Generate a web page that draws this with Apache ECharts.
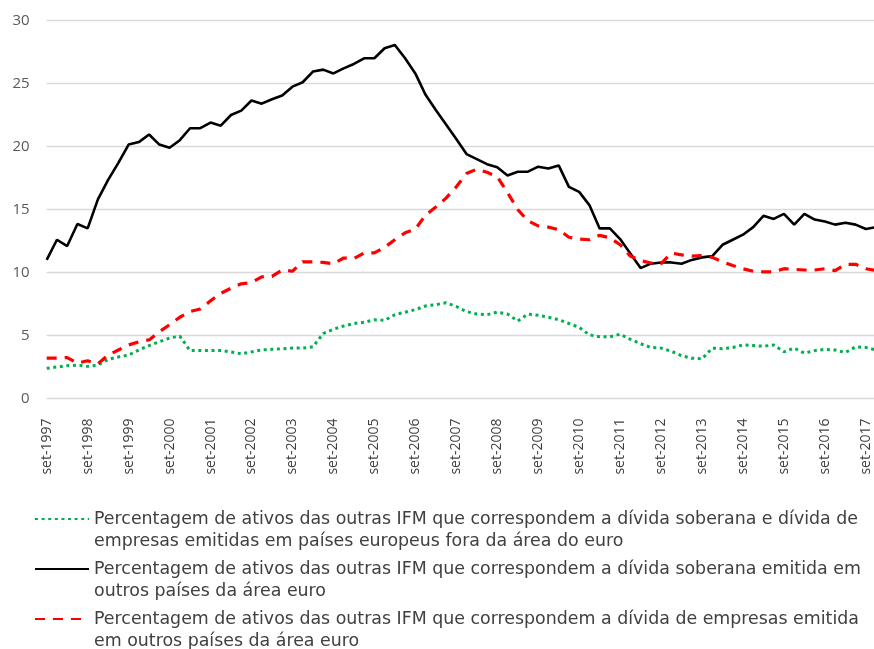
<!DOCTYPE html>
<html>
<head>
<meta charset="utf-8">
<script src="https://cdn.jsdelivr.net/npm/echarts@6/dist/echarts.min.js"></script>
<style>
html,body{margin:0;padding:0;background:#fff;}
#chart{width:874px;height:649px;}
</style>
</head>
<body>
<div id="chart"></div>
<script>
// Quarterly categories: set-1997 ... dez-2017
const quarterMonths = ['set', 'dez', 'mar', 'jun'];
const categories = [];
for (let i = 0; i < 82; i++) {
  const m = quarterMonths[i % 4];
  const year = (m === 'set' || m === 'dez') ? 1997 + Math.floor(i / 4) : 1998 + Math.floor(i / 4);
  categories.push(m + '-' + year);
}

const seriesNames = [
  'Percentagem de ativos das outras IFM que correspondem a dívida soberana e dívida de\nempresas emitidas em países europeus fora da área do euro',
  'Percentagem de ativos das outras IFM que correspondem a dívida soberana emitida em\noutros países da área euro',
  'Percentagem de ativos das outras IFM que correspondem a dívida de empresas emitida\nem outros países da área euro'
];

const nonEuroDebt = [
  2.4, 2.5, 2.6, 2.65, 2.55, 2.65, 3.1, 3.3, 3.45, 3.85,
  4.2, 4.5, 4.8, 4.95, 3.8, 3.8, 3.8, 3.8, 3.7, 3.55,
  3.7, 3.85, 3.9, 3.95, 4.0, 4.0, 4.1, 5.15, 5.5, 5.75,
  5.95, 6.05, 6.25, 6.2, 6.65, 6.85, 7.05, 7.35, 7.45, 7.6,
  7.3, 6.9, 6.7, 6.65, 6.85, 6.7, 6.15, 6.7, 6.6, 6.45,
  6.25, 5.95, 5.65, 5.05, 4.9, 4.9, 5.1, 4.7, 4.35, 4.05,
  4.0, 3.75, 3.4, 3.2, 3.15, 4.0, 3.95, 4.05, 4.25, 4.2,
  4.15, 4.25, 3.7, 4.0, 3.6, 3.8, 3.9, 3.85, 3.65, 4.1,
  4.05, 3.85
];

const sovereignEuro = [
  11.0, 12.6, 12.1, 13.85, 13.5, 15.8, 17.35, 18.7, 20.15, 20.35,
  20.95, 20.15, 19.9, 20.5, 21.45, 21.45, 21.9, 21.65, 22.5, 22.85,
  23.65, 23.4, 23.75, 24.05, 24.75, 25.1, 25.95, 26.1, 25.8, 26.2,
  26.55, 27.0, 27.0, 27.8, 28.05, 27.0, 25.8, 24.1, 22.9, 21.75,
  20.6, 19.4, 19.0, 18.6, 18.35, 17.7, 18.0, 18.0, 18.4, 18.25,
  18.5, 16.8, 16.4, 15.35, 13.5, 13.5, 12.65, 11.5, 10.35, 10.7,
  10.8, 10.8, 10.7, 11.0, 11.2, 11.3, 12.2, 12.6, 13.0, 13.6,
  14.5, 14.25, 14.65, 13.8, 14.65, 14.2, 14.05, 13.8, 13.95, 13.8,
  13.45, 13.6
];

const corporateEuro = [
  3.2, 3.2, 3.25, 2.8, 3.0, 2.75, 3.45, 3.85, 4.25, 4.5,
  4.65, 5.3, 5.85, 6.45, 6.9, 7.1, 7.75, 8.35, 8.75, 9.1,
  9.2, 9.65, 9.7, 10.2, 10.1, 10.85, 10.85, 10.8, 10.7, 11.15,
  11.1, 11.55, 11.55, 12.0, 12.6, 13.15, 13.45, 14.55, 15.2, 15.9,
  16.8, 17.85, 18.2, 17.95, 17.6, 16.35, 15.0, 14.1, 13.7, 13.6,
  13.4, 12.8, 12.65, 12.6, 12.95, 12.75, 12.2, 11.3, 10.95, 10.75,
  10.7, 11.55, 11.4, 11.3, 11.35, 11.2, 10.85, 10.55, 10.3, 10.1,
  10.05, 10.05, 10.3, 10.25, 10.2, 10.2, 10.3, 10.15, 10.65, 10.65,
  10.3, 10.15
];

const yTicks = { min: 0, max: 30, interval: 5 };

const chart = echarts.init(document.getElementById('chart'), null, { renderer: 'canvas' });
const FONT = 'Open Sans';
const LEGEND_FONT = 'DejaVu Sans';

chart.setOption({
  backgroundColor: '#ffffff',
  animation: false,
  textStyle: { fontFamily: FONT },
  grid: {
    left: 46.7,
    top: 20.5,
    width: 829.4,
    height: 378,
    containLabel: false,
    outerBoundsMode: 'none'
  },
  xAxis: {
    type: 'category',
    data: categories,
    boundaryGap: false,
    axisLine: { show: false },
    axisTick: { show: false },
    splitLine: { show: false },
    axisLabel: {
      interval: 3,
      rotate: 90,
      margin: 20,
      padding: [8, 0, 0, 0],
      color: '#404040',
      fontSize: 14,
      fontFamily: FONT
    }
  },
  yAxis: {
    type: 'value',
    min: yTicks.min,
    max: yTicks.max,
    interval: yTicks.interval,
    axisLine: { show: false },
    axisTick: { show: false },
    axisLabel: { color: '#595959', fontSize: 15, margin: 17, fontFamily: FONT },
    splitLine: { lineStyle: { color: '#d9d9d9', width: 1.3 } }
  },
  legend: {
    type: 'plain',
    orient: 'vertical',
    left: 34,
    top: 486,
    height: 240,
    padding: 0,
    itemGap: -16,
    itemWidth: 54,
    itemHeight: 14,
    itemStyle: { opacity: 0 },
    formatter: function (name) { return '\n' + name; },
    textStyle: { fontSize: 17.4, lineHeight: 22, color: '#404040', fontFamily: LEGEND_FONT },
    data: seriesNames
  },
  series: [
    {
      name: seriesNames[0],
      type: 'line',
      data: nonEuroDebt,
      symbol: 'none',
      lineStyle: { color: '#00b050', width: 3, type: [3, 3.6], cap: 'butt' },
      itemStyle: { color: '#00b050' },
      z: 3
    },
    {
      name: seriesNames[1],
      type: 'line',
      data: sovereignEuro,
      symbol: 'none',
      lineStyle: { color: '#000000', width: 2.6, type: 'solid' },
      itemStyle: { color: '#000000' },
      z: 4
    },
    {
      name: seriesNames[2],
      type: 'line',
      data: corporateEuro,
      symbol: 'none',
      lineStyle: { color: '#ff0000', width: 3.2, type: [10, 8], cap: 'butt' },
      itemStyle: { color: '#ff0000' },
      z: 5
    }
  ]
});
</script>
</body>
</html>
